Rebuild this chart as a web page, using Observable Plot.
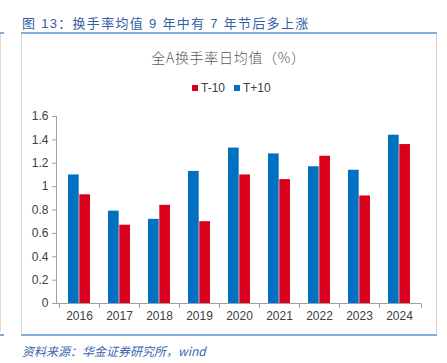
<!DOCTYPE html>
<html>
<head>
<meta charset="utf-8">
<script src="https://cdn.jsdelivr.net/npm/d3@7"></script>
<script src="https://cdn.jsdelivr.net/npm/@observablehq/plot@0.6"></script>
<style>
  html, body { margin: 0; padding: 0; background: #fff; }
  #wrap { position: relative; width: 447px; height: 363px; overflow: hidden; background: #fff;
          font-family: "Liberation Sans", Arial, "Noto Sans CJK SC", sans-serif; }
  .abs { position: absolute; }
  #title { left: 22px; top: 13px; font-size: 13px; letter-spacing: 1.3px; color: #3560A8; white-space: nowrap;
           font-family: "Liberation Sans", Arial, "Noto Sans CJK SC", sans-serif; }
  #topline { left: 21px; top: 31.5px; width: 416px; height: 2px; background: #7FAEDC; }
  #botline { left: 21px; top: 334px; width: 416px; height: 1.5px; background: #7FAEDC; }
  #frame { left: 21px; top: 33px; width: 414px; height: 300px; border-left: 1px solid #D9D9D9; border-right: 1px solid #CFCFCF; }
  #ctitle { left: 21px; top: 47px; width: 415px; text-align: center; font-size: 14px; color: #595959; letter-spacing: 0.7px;
            font-family: "Noto Sans CJK SC", sans-serif; font-weight: 300; }
  #legend { left: 192px; top: 81px; font-size: 12px; color: #404040; white-space: nowrap; display: flex; align-items: center; }
  .sw { display: inline-block; width: 6px; height: 6px; margin-right: 3px; }
  .item { display: inline-flex; align-items: center; margin-right: 9px; }
  #caption { left: 22px; top: 342px; font-size: 12px; font-style: italic; color: #3A64B0; white-space: nowrap;
             font-family: "Noto Sans CJK SC", "Liberation Sans", sans-serif; }
  #chart { left: 21px; top: 100px; }
  #edge1 { left: 0px; top: 33px; width: 1px; height: 298px; background: #D9D9D9; }
  #edge2 { left: 0px; top: 32px; width: 4px; height: 1.5px; background: #7FAEDC; }
  #edge3 { left: 0px; top: 334px; width: 4px; height: 1.5px; background: #7FAEDC; }
</style>
</head>
<body>
<div id="wrap">
  <div id="edge1" class="abs"></div>
  <div id="edge2" class="abs"></div>
  <div id="edge3" class="abs"></div>
  <div id="frame" class="abs"></div>
  <div id="topline" class="abs"></div>
  <div id="botline" class="abs"></div>
  <div id="title" class="abs"></div>
  <div id="ctitle" class="abs"></div>
  <div id="legend" class="abs"></div>
  <div id="chart" class="abs"></div>
  <div id="caption" class="abs"></div>
</div>
<script>
// ---- data ----
const titleText = "图 13：换手率均值 9 年中有 7 年节后多上涨";
const chartTitle = "全A换手率日均值（%）";
const captionText = "资料来源：华金证券研究所，wind";
const years = ["2016", "2017", "2018", "2019", "2020", "2021", "2022", "2023", "2024"];
const seriesNames = ["T-10", "T+10"];
const seriesColors = ["#D9001B", "#0070C0"];
const tMinus10 = [0.93, 0.67, 0.84, 0.70, 1.10, 1.06, 1.26, 0.92, 1.36];
const tPlus10  = [1.10, 0.79, 0.72, 1.13, 1.33, 1.28, 1.17, 1.14, 1.44];
const yTicks = [0, 0.2, 0.4, 0.6, 0.8, 1, 1.2, 1.4, 1.6];

document.getElementById("title").textContent = titleText;
document.getElementById("ctitle").textContent = chartTitle;
document.getElementById("caption").textContent = captionText;

// legend
const legend = document.getElementById("legend");
seriesNames.forEach((name, i) => {
  const item = document.createElement("span");
  item.className = "item";
  const sw = document.createElement("span");
  sw.className = "sw";
  sw.style.background = seriesColors[i];
  item.appendChild(sw);
  item.appendChild(document.createTextNode(name));
  legend.appendChild(item);
});

const rowsMinus = years.map((y, i) => ({year: y, value: tMinus10[i]}));
const rowsPlus  = years.map((y, i) => ({year: y, value: tPlus10[i]}));

const axisColor = "#A0A0A0";

// axis lines + category boundary ticks
function axisLines(index, scales, values, dims) {
  const g = d3.create("svg:g").attr("stroke", axisColor).attr("stroke-width", 1).attr("fill", "none");
  const y0 = scales.y(0), yTop = scales.y(1.6);
  const xl = dims.marginLeft, xr = dims.width - dims.marginRight;
  g.append("line").attr("x1", xl + 0.5).attr("x2", xl + 0.5).attr("y1", yTop).attr("y2", y0);
  g.append("line").attr("x1", xl).attr("x2", xr).attr("y1", Math.round(y0) + 0.5).attr("y2", Math.round(y0) + 0.5);
  const bounds = years.map(y => scales.x(y)).concat([xr]);
  bounds.forEach(b => {
    g.append("line").attr("x1", Math.round(b) + 0.5).attr("x2", Math.round(b) + 0.5)
      .attr("y1", Math.round(y0) + 0.5).attr("y2", Math.round(y0) + 5);
  });
  return g.node();
}

const chart = Plot.plot({
  width: 415,
  height: 230,
  marginLeft: 35,
  marginRight: 15,
  marginTop: 16,
  marginBottom: 27,
  style: {fontFamily: "'Liberation Sans', Arial, sans-serif", fontSize: "12px", color: "#404040", background: "transparent"},
  x: {domain: years, padding: 0, label: null},
  y: {domain: [0, 1.6], label: null},
  marks: [
    Plot.barY(rowsPlus, {x: "year", y: "value", fill: seriesColors[1], insetLeft: 9, insetRight: 20.3}),
    Plot.barY(rowsMinus, {x: "year", y: "value", fill: seriesColors[0], insetLeft: 20.3, insetRight: 9}),
    Plot.axisY({ticks: yTicks, tickSize: 4, tickPadding: 4, stroke: axisColor, fill: "#404040",
                tickFormat: d => String(+d.toFixed(1)), label: null}),
    Plot.axisX({tickSize: 0, tickPadding: 8, fill: "#404040", label: null}),
    axisLines
  ]
});
document.getElementById("chart").appendChild(chart);
</script>
</body>
</html>
